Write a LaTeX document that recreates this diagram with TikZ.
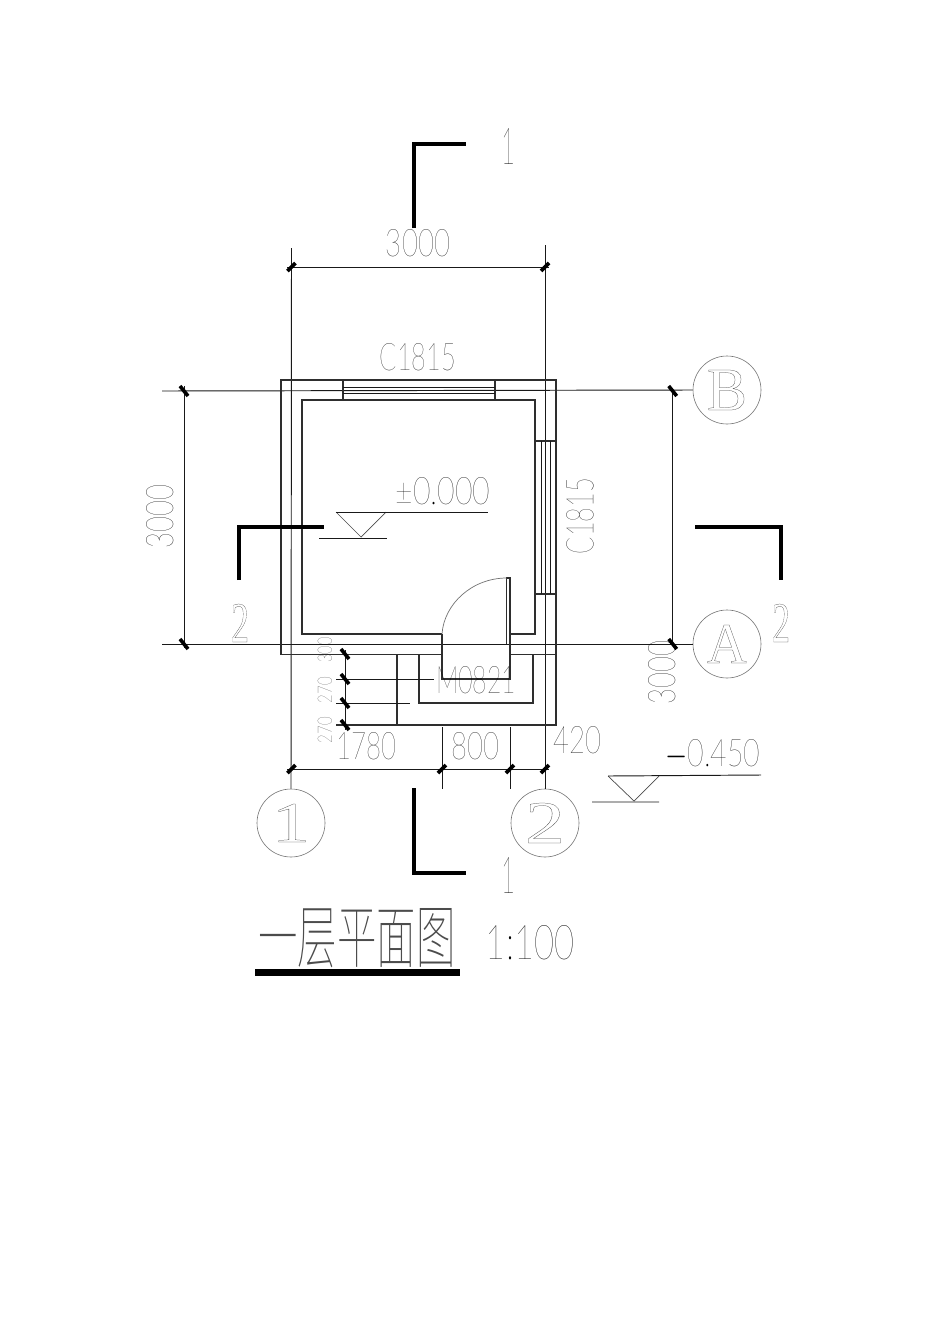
\documentclass[tikz,border=0pt]{standalone}
\usepackage{fontspec}
\usepackage{graphicx}
\setmainfont{Lato Hairline}
\newfontfamily\serifnum{Liberation Serif}
\newfontfamily\cjk{Noto Sans CJK SC Thin}
\newcommand{\fitbox}[3]{\resizebox{#1pt}{#2pt}{#3}}
\newcommand{\hollow}[1]{\special{pdf:code 1 Tr 0.04 w}#1\special{pdf:code 0 Tr}}
\tikzset{
  x=1pt,y=-1pt,
  thinline/.style={line width=.95pt,black!90},
  wall/.style={line width=1.05pt,black!82},
  section/.style={line width=4.8pt,black,miter limit=10},
  tick/.style={line width=3.6pt,black},
  txt/.style={inner sep=0pt,text=black},
  axisbubble/.style={circle,draw=black!55,line width=.6pt,minimum size=68pt,inner sep=0pt,text=black!75},
}
\begin{document}
\begin{tikzpicture}
\useasboundingbox (0,0) rectangle (950,1344);
\fill[white] (0,0) rectangle (950,1344);
% bubbles
\node[axisbubble] (c1) at (291,823) {\serifnum\fitbox{38}{38}{\hollow{1}}};
\node[axisbubble] (c2) at (545,823) {\serifnum\fitbox{40}{40}{\hollow{2}}};
\node[axisbubble] (cB) at (727,390) {\serifnum\fitbox{40}{40}{\hollow{B}}};
\node[axisbubble] (cA) at (727,644) {\serifnum\fitbox{40}{38}{\hollow{A}}};
% axes
\coordinate (a1t) at (291.5,248);
\coordinate (a2t) at (545,245);
\draw[thinline] (a1t) -- (c1.north);
\draw[thinline] (a2t) -- (c2.north);
\coordinate (aBl) at (162,391);
\coordinate (aAl) at (162,644);
\draw[thinline] (aBl) -- (cB.west);
\draw[thinline] (aAl) -- (cA.west);
% walls
\draw[wall] (281,654.7) -- (281,380) -- (556,380) -- (556,725) -- (336,725);
\draw[wall] (281,654.7) -- (442,654.7);
\draw[wall] (510,654.7) -- (556,654.7);
\draw[wall] (442,634) -- (302,634) -- (302,400) -- (535,400) -- (535,634) -- (510,634);
% north window
\draw[wall] (343,380) -- (343,400) (495,380) -- (495,400);
\draw[thinline] (343,387.5) -- (495,387.5) (343,393.5) -- (495,393.5);
% east window
\draw[wall] (535,441) -- (556,441) (535,594) -- (556,594);
\draw[thinline] (541.7,441) -- (541.7,594) (550,441) -- (550,594);
% door
\draw[wall] (442,634) -- (442,679) -- (510,679) -- (510,578) -- (506.7,578) -- (506.7,644);
\draw[line width=.7pt,black!55] (442,634) .. controls (444,604) and (472,578) .. (506.7,578);
% steps
\draw[wall] (419,655) -- (419,703) -- (533,703) -- (533,655);
\draw[wall] (397,655) -- (397,725);
\draw[thinline] (336,679) -- (434,679);
\draw[thinline] (336,703) -- (410,703);
% dimensions
\draw[thinline] (345,650) -- (345,730);
\draw[thinline] (287,769) -- (549,769);
\draw[thinline] (287,267) -- (549,267);
\draw[thinline] (184,386) -- (184,648);
\draw[thinline] (672.7,391) -- (672.7,644);
\draw[thinline] (442,727) -- (442,789) (510,727) -- (510,789);
% ticks
\foreach \p in {(291.5,267),(545,267),(291.5,769),(442,769),(510,769),(545,769)}{
  \draw[tick] \p ++(-4,4) -- ++(8,-8);
}
\foreach \p in {(184,391),(184,644),(672.7,391),(672.7,644),(345,654),(345,679),(345,703),(345,725)}{
  \draw[tick] \p ++(-4,-5) -- ++(8,10);
}
% section marks
\draw[section] (414,228) -- (414,144) -- (466,144);
\draw[section] (414,788) -- (414,873) -- (466,873);
\draw[section] (239,580) -- (239,527) -- (324,527);
\draw[section] (695,527) -- (781,527) -- (781,580);
% level marks
\draw[line width=.7pt,black!70] (336,512) -- (361,537) -- (386,512);
\draw[thinline] (336,512) -- (488,512) (319,538) -- (387,538);
\draw[line width=.7pt,black!70] (608,776) -- (634,801) -- (659,776);
\draw[thinline] (608,776) -- (761,775) (592,802) -- (659,802);
% title underline
\draw[line width=7pt,black] (255,972) -- (460,972);
% labels
\node[txt] (d1) at (418,243) {\fitbox{64}{27}{3000}};
\node[txt] (w1) at (418,357) {\fitbox{76}{27}{C1815}};
\node[txt,rotate=90] (d2) at (160,516) {\fitbox{64}{27}{3000}};
\node[txt,rotate=90] (w2) at (580,516) {\fitbox{76}{27}{C1815}};
\node[txt] (lv1) at (443,491) {\fitbox{95}{27}{±0.000}};
\node[txt] (m) at (476,680) {\fitbox{80}{27}{M0821}};
\node[txt] (d3) at (366,746) {\fitbox{60}{27}{1780}};
\node[txt] (d4) at (475,746) {\fitbox{48}{27}{800}};
\node[txt] (d5) at (577,740) {\fitbox{48}{27}{420}};
\node[txt,rotate=90] (d6) at (662,672) {\fitbox{64}{27}{3000}};
\node[txt,rotate=90] (d7) at (325,650) {\fitbox{25}{14}{300}};
\node[txt,rotate=90] (d8) at (325,690) {\fitbox{26}{14}{270}};
\node[txt,rotate=90] (d9) at (325,730) {\fitbox{26}{14}{270}};
\node[txt] (lv2) at (713,755) {\fitbox{95}{27}{$-$0.450}};
\node[txt] (s1) at (508,146) {\fitbox{14}{36}{1}};
\node[txt] (s2) at (508,875) {\fitbox{14}{36}{1}};
\node[txt,text=black!75] (s3) at (240,623) {\serifnum\fitbox{18}{38}{\hollow{2}}};
\node[txt,text=black!75] (s4) at (781,623) {\serifnum\fitbox{18}{38}{\hollow{2}}};
\node[txt,text=black!70] (title) at (357,938) {\fitbox{197}{54}{\cjk 一层平面图}};
\node[txt] (scale) at (530,943) {\fitbox{88}{34}{1:100}};
\end{tikzpicture}
\end{document}
